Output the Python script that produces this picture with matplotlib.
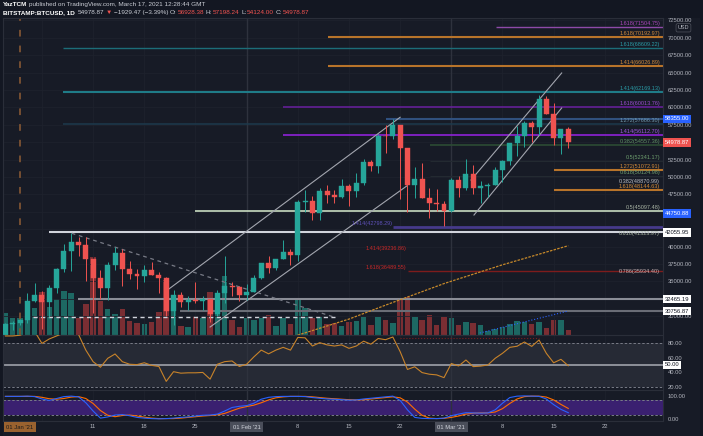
import numpy as np
import pandas as pd
import matplotlib
matplotlib.use("Agg")
import matplotlib.pyplot as plt
import matplotlib.dates as mdates
import matplotlib.transforms as mtrans
from matplotlib.patches import Rectangle

plt.rcParams["font.family"] = ["Liberation Sans", "DejaVu Sans"]

# ---- data ----
dates = pd.date_range("2020-12-30", "2021-03-17", freq="D")
opens = [27360, 28880, 28990, 29400, 32190, 33000, 32030, 34050, 36860, 39430, 40670, 40240, 38240, 35570,
         34050, 37390, 39150, 36770, 36030, 35830, 36630, 35900, 35480, 30830, 33000, 32100, 32290, 32260,
         32500, 30400, 33400, 34300, 34280, 33100, 33540, 35500, 37650, 36970, 38300, 39240, 38860, 46450,
         46500, 44850, 48000, 47400, 47200, 48700, 47950, 49150, 52140, 51600, 55890, 55840, 57490, 54150,
         48880, 49700, 47050, 46300, 46150, 45200, 49600, 48400, 50400, 48400, 48750, 48900, 50950, 52380,
         54880, 55860, 57800, 57250, 61200, 59000, 55600, 56928]
highs = [28990, 29300, 29600, 33300, 34780, 33600, 34500, 36940, 40400, 41950, 41350, 41350, 38300, 36600,
         37800, 40000, 39700, 37900, 36800, 37400, 37850, 36400, 35600, 33800, 33480, 32950, 34900, 32900,
         32550, 33750, 38600, 34900, 34300, 34700, 35900, 37700, 38700, 38300, 40950, 39700, 46700, 48100,
         47300, 48500, 48900, 48100, 49700, 49000, 50600, 52600, 52500, 56200, 57500, 58350, 57500, 54200,
         51400, 52000, 48400, 48300, 46600, 49800, 50200, 52600, 51700, 49400, 49200, 51400, 52400, 54900,
         57400, 58100, 58000, 61800, 61600, 60600, 56950, 57198]
lows = [27320, 28000, 28700, 29000, 32000, 28130, 29900, 33300, 36300, 36500, 38720, 35110, 30420, 32500,
        32400, 36700, 34400, 35400, 33900, 34900, 35900, 33400, 30000, 28800, 31400, 30900, 31900, 30900,
        29200, 30000, 31900, 32900, 32200, 32300, 33450, 35400, 36200, 36600, 38200, 37400, 37990, 45000,
        43800, 43800, 46300, 46300, 47000, 45800, 47100, 48900, 50900, 50600, 53500, 55500, 46900, 44950,
        47000, 47000, 44100, 45100, 43000, 45000, 47100, 48100, 47500, 46300, 47100, 48900, 49300, 51800,
        53000, 54300, 55000, 56100, 59000, 54600, 53300, 54124]
closes = [28880, 28990, 29400, 32190, 33000, 32030, 34050, 36860, 39430, 40670, 40240, 38240, 35570, 34050,
          37390, 39150, 36770, 36030, 35830, 36630, 35900, 35480, 30830, 33000, 32100, 32290, 32260, 32500,
          30400, 33400, 34300, 34280, 33100, 33540, 35500, 37650, 36970, 38300, 39240, 38860, 46450, 46500,
          44850, 48000, 47400, 47200, 48700, 47950, 49150, 52140, 51600, 55890, 55840, 57490, 54150, 48880,
          49700, 47050, 46300, 46150, 45200, 49600, 48400, 50400, 48400, 48750, 48900, 50950, 52380, 54880,
          55860, 57800, 57250, 61200, 59000, 55600, 56930, 54979]
volume_k = [10.8, 8.5, 8.5, 16.5, 13.5, 21.5, 14, 18, 22, 21, 8.5, 15.5, 39, 17, 13, 10.5, 13, 7, 6, 5.5,
            6.5, 11.5, 27.5, 18.5, 4.5, 4, 9.5, 8.5, 21.5, 20.5, 29.5, 7.5, 4, 8.5, 7.5, 8.5, 10, 4.5, 8.5,
            5.5, 18, 13.5, 8.5, 9, 5.5, 6, 4.5, 6.5, 7, 9, 5, 9, 7.5, 6, 17.5, 19, 9, 7.5, 10, 5, 9, 8.5,
            5, 6.5, 6, 5, 2, 3, 4, 5.5, 7, 6.5, 5.5, 6.5, 3.5, 7.5, 7.5, 2.5]
rsi = [89, 89, 90, 94, 95, 79, 85, 89, 93, 94, 91, 70, 54.4, 47, 59, 64.8, 54.4, 51, 50.5, 53, 49.5, 48,
       28, 41, 39, 39.5, 39.5, 40, 31, 51, 54.5, 55.4, 48, 51, 61, 70, 65, 70, 73.7, 70, 87, 86.5, 75.5,
       80, 77, 75.5, 77, 72.4, 75.5, 82, 78, 85.6, 84, 87.6, 68, 44, 47.6, 39.8, 37.6, 36.7, 33, 52, 48.7,
       56.7, 47.8, 48.5, 50, 59, 65.7, 73.7, 75.2, 80.9, 75, 83.6, 65.7, 53, 57.6, 49]
stoch_k = [97, 97, 97, 98, 96, 86, 80, 88, 96, 98, 95, 70, 35, 5, 10, 18, 20, 15, 8, 5, 3, 2, 3, 5, 8, 10,
           14, 17, 18, 22, 35, 50, 55, 58, 68, 85, 93, 96, 97, 97, 97, 96, 92, 89, 86, 85, 83, 81, 82, 86,
           89, 92, 95, 98, 80, 40, 8, 4, 3, 3, 5, 15, 22, 28, 27, 26, 27, 40, 68, 92, 98, 99, 98, 97, 86,
           62, 42, 28]
stoch_d = [97, 97, 97, 97, 97, 93, 87, 85, 88, 94, 96, 88, 67, 37, 17, 11, 16, 18, 14, 9, 5, 3, 3, 3, 5, 8,
           11, 14, 16, 19, 25, 36, 47, 54, 60, 70, 82, 91, 95, 97, 97, 97, 95, 92, 89, 87, 85, 83, 82, 83,
           86, 89, 92, 95, 91, 73, 43, 17, 5, 3, 4, 8, 14, 22, 26, 27, 27, 31, 45, 67, 86, 96, 98, 98, 94,
           82, 63, 46]
ma_dates = pd.date_range("2021-02-05", "2021-03-17", freq="D")
ma_values = [26400, 26700, 27000, 27300, 27620, 27950, 28280, 28610, 28940, 29270, 29600, 30000, 30400,
             30800, 31200, 31600, 31990, 32380, 32770, 33150, 33540, 33930, 34310, 34700, 35040, 35380,
             35710, 36050, 36390, 36720, 37060, 37400, 37700, 38010, 38310, 38620, 38920, 39230, 39530,
             39840, 40140]

# horizontal levels: price and first day (days after 1 Jan 2021)
level_prices = [71504.75, 70192.97, 68609.22, 66026.89, 62169.13, 60013.76, 58355.00, 57686.30, 56112.70,
                54557.36, 52341.17, 51072.91, 50124.98, 48144.63, 45097.48, 42798.29, 42055.95, 36489.55,
                32465.19, 30756.87]
level_start = [65.1, 42.1, 5.9, 42.1, 5.9, 36.0, 50.1, 5.9, 36.0, 56.1, 56.1, 73.0, 56.1, 73.0, 24.0, 51.0,
               4.0, 53.1, 7.9, 21.9]
level_colors = ["#8e4aa8", "#b8742a", "#1c6d78", "#b8742a", "#1f7c88", "#6a1fa0", "#30507e", "#1d3a4c",
                "#8e22d8", "#2c4c34", "#232a31", "#b8742a", "#232a31", "#b8742a", "#c8dcc0", "#463a8a",
                "#d1d4dc", "#7e1c1c", "#8a8d96", "#6a6d76"]
level_widths = [1.0, 1.5, 1.0, 1.5, 1.5, 1.1, 1.5, 1.1, 1.2, 1.2, 0.8, 1.5, 0.8, 1.5, 1.2, 2.0, 1.5, 1.0,
                1.5, 1.5]

right_labels = ["1.618(71504.75)", "1.618(70192.97)", "1.618(68609.22)", "1.414(66026.89)",
                "1.414(62169.13)", "1.618(60013.76)", "1.272(57686.30)", "1.414(56112.70)",
                "0.382(54557.36)", "0.5(52341.17)", "1.272(51072.91)", "0.618(50124.98)",
                "0.382(48870.99)", "1.618(48144.63)", "0.5(45097.48)", "0.618(41323.97)", "0.786(35934.40)"]
right_label_prices = [71504.75, 70192.97, 68609.22, 66026.89, 62169.13, 60013.76, 57686.30, 56112.70,
                      54557.36, 52341.17, 51072.91, 50124.98, 48870.99, 48144.63, 45097.48, 41323.97, 35934.40]
right_label_colors = ["#ab47bc", "#d08a3a", "#2a9aa5", "#d08a3a", "#2a9aa5", "#9a4ad0", "#6f97ab",
                      "#a057e0", "#5f8f62", "#6e9e6e", "#d08a3a", "#6e9e6e", "#b8bbc2", "#d08a3a",
                      "#a8b4a4", "#a8b4a4", "#c8b4b4"]

left_labels = ["1.414(42798.29)", "1.414(39236.86)", "1.618(36489.55)"]
left_label_prices = [42798.29, 39236.86, 36489.55]
left_label_end = [50.9, 52.8, 52.8]
left_label_colors = ["#5e50b8", "#c62828", "#c62828"]

# drawn trend lines: (days, prices)
chan1_up = ([20.1, 52.0], [33720, 58600])
chan1_lo = ([26.0, 52.9], [28460, 48720])
chan2_up = ([61.7, 74.1], [49580, 64960])
chan2_lo = ([62.1, 74.1], [44550, 59930])
down_line = ([7.07, 42.8], [41930, 29940])
support_30k = ([1.8, 43.1], [29950, 29950])
vol_trend = ([62.9, 75.0], [27600, 30760])

box_labels = ["58355.00", "54978.87", "44750.88", "42055.95", "32465.19", "30756.87"]
box_prices = [58355.00, 54978.87, 44750.88, 42055.95, 32465.19, 30756.87]
box_face = ["#2962ff", "#ef5350", "#2962ff", "#ffffff", "#ffffff", "#ffffff"]
box_text = ["#ffffff", "#ffffff", "#ffffff", "#131722", "#131722", "#131722"]

# price scale labels that are not hidden behind the boxes
price_ticks = [30000, 35000, 37500, 40000, 47500, 50000, 52500, 57500, 60000, 62500, 65000, 67500, 70000,
               72500]
grid_prices = np.arange(30000, 72501, 2500)

week_ticks = pd.to_datetime(["2021-01-11", "2021-01-18", "2021-01-25", "2021-02-08", "2021-02-15",
                             "2021-02-22", "2021-03-08", "2021-03-15", "2021-03-22"])
week_labels = ["11", "18", "25", "8", "15", "22", "8", "15", "22"]
grid_weeks = pd.date_range("2021-01-04", "2021-03-22", freq="7D")

# ---- figure ----
W, H = 703, 436
BG = "#171b26"
TXT = "#b2b5be"
GRID = "#1e222d"
UP, DN = "#26a69a", "#ef5350"


def rect(x0, y0, x1, y1):
    return [x0 / W, 1 - y1 / H, (x1 - x0) / W, (y1 - y0) / H]


fig = plt.figure(figsize=(W / 100, H / 100), dpi=100, facecolor="#131722")
fig.patches.append(Rectangle((3 / W, 0), 697 / W, 1 - 18 / H, transform=fig.transFigure,
                             facecolor=BG, edgecolor="none", zorder=-10))

t0 = mdates.date2num(pd.Timestamp("2021-01-01"))
x = mdates.date2num(dates)
xmin, xmax = t0 - 2.33, t0 + 87.96

ax_vol = fig.add_axes(rect(3, 18, 663, 335))
ax = fig.add_axes(rect(3, 18, 663, 335))
ax_rsi = fig.add_axes(rect(3, 335, 663, 390))
ax_st = fig.add_axes(rect(3, 390, 663, 421))

for a in (ax_vol, ax, ax_rsi, ax_st):
    a.set_xlim(xmin, xmax)
    for s in a.spines.values():
        s.set_color("#2a2e39")
        s.set_linewidth(0.8)
ax_vol.set_facecolor(BG)
ax_vol.axis("off")
ax.patch.set_visible(False)
ax_rsi.set_facecolor(BG)
ax_st.set_facecolor(BG)

o, h, l, c = map(np.array, (opens, highs, lows, closes))
up = c >= o
col = np.where(up, UP, DN)

# volume
ax_vol.bar(x, volume_k, width=0.75, color=np.where(up, "#1d6863", "#7a2e33"), zorder=1)
ax_vol.set_ylim(0, 158.5)

# price pane
ax.set_ylim(27313, 72859)
for p in grid_prices:
    ax.axhline(p, color=GRID, lw=0.6, zorder=0)
for a in (ax, ax_rsi, ax_st):
    for d in mdates.date2num(grid_weeks):
        a.axvline(d, color=GRID, lw=0.6, zorder=0)
    for d in (t0 + 31, t0 + 59):
        a.axvline(d, color="#2e323d", lw=1.0, zorder=0.5)
ax.axvline(t0, color="#7d5333", lw=1.3, dashes=(3.7, 5), zorder=1)

for p, s, cl, lw in zip(level_prices, level_start, level_colors, level_widths):
    ax.plot([t0 + s, xmax], [p, p], color=cl, lw=lw, solid_capstyle="butt", zorder=2)

trans_r = mtrans.blended_transform_factory(ax.transAxes, ax.transData)
for s, p, cl in zip(right_labels, right_label_prices, right_label_colors):
    ax.text(0.9955, p + 150, s, transform=trans_r, ha="right", va="bottom", color=cl, fontsize=4.0, zorder=6)
for s, p, e, cl in zip(left_labels, left_label_prices, left_label_end, left_label_colors):
    ax.text(t0 + e, p + 150, s, ha="right", va="bottom", color=cl, fontsize=4.0, zorder=6)

for (dd, pp) in (chan1_up, chan1_lo, chan2_up, chan2_lo):
    ax.plot(t0 + np.array(dd), pp, color="#a3a6af", lw=0.8, zorder=3)
ax.plot(t0 + np.array(down_line[0]), down_line[1], color="#787b86", lw=0.9, dashes=(3, 3), zorder=3)
ax.plot(t0 + np.array(support_30k[0]), support_30k[1], color="#d1d4dc", lw=1.0, dashes=(3, 2.5), zorder=3)
ax.plot(t0 + np.array(vol_trend[0]), vol_trend[1], color="#2962ff", lw=0.8, ls=":", zorder=3)
ax.plot(mdates.date2num(ma_dates), ma_values, color="#c88a2a", lw=0.9, dashes=(2, 1), zorder=3)

ax.vlines(x, l, h, colors=col, lw=0.7, zorder=4)
ax.bar(x, np.abs(c - o), bottom=np.minimum(o, c), width=0.68, color=col, edgecolor=col, lw=0.3, zorder=5)

ax.yaxis.tick_right()
ax.set_yticks(price_ticks)
ax.yaxis.set_major_formatter(matplotlib.ticker.FormatStrFormatter("%.2f"))
ax.tick_params(axis="y", length=0, pad=3.6, labelsize=4.2, labelcolor=TXT)
ax.tick_params(axis="x", bottom=False, labelbottom=False)

for s, p, fc, tc in zip(box_labels, box_prices, box_face, box_text):
    ax.text(1.003, p, s, transform=trans_r, ha="left", va="center", color=tc, fontsize=4.2, zorder=7,
            clip_on=False, bbox=dict(boxstyle="square,pad=0.3", fc=fc, ec="none"))
ax.text(1.031, 71450, "USD", transform=trans_r, ha="center", va="center", color=TXT, fontsize=4.0,
        clip_on=False, bbox=dict(boxstyle="round,pad=0.3", fc=BG, ec="#50535e", lw=0.5))

# RSI pane
ax_rsi.set_ylim(16.4, 90.3)
ax_rsi.fill_between([xmin, xmax], 20, 80, color="#262a35", zorder=0.2, lw=0)
for lv in (80, 20):
    ax_rsi.axhline(lv, color="#787b86", lw=0.7, dashes=(2.5, 2), zorder=1)
ax_rsi.axhline(50, color="#9598a1", lw=1.3, zorder=1)
ax_rsi.plot([t0 + 52, t0 + 71], [86, 86], color="#7a2020", lw=0.8, ls=":", zorder=1)
ax_rsi.plot(x, rsi, color="#c8832a", lw=0.8, zorder=3)
ax_rsi.yaxis.tick_right()
ax_rsi.set_yticks([20, 40, 60, 80])
ax_rsi.yaxis.set_major_formatter(matplotlib.ticker.FormatStrFormatter("%.2f"))
ax_rsi.tick_params(axis="y", length=0, pad=3.6, labelsize=4.2, labelcolor=TXT)
ax_rsi.tick_params(axis="x", bottom=False, labelbottom=False)
trans_rsi = mtrans.blended_transform_factory(ax_rsi.transAxes, ax_rsi.transData)
ax_rsi.text(1.003, 50, "50.00", transform=trans_rsi, ha="left", va="center", color="#131722", fontsize=4.2,
            clip_on=False, zorder=7, bbox=dict(boxstyle="square,pad=0.3", fc="#ffffff", ec="none"))

# Stoch RSI pane
ax_st.set_ylim(-7.2, 124)
ax_st.fill_between([xmin, xmax], 20, 80, color="#3a2070", zorder=0.2, lw=0)
for lv in (80, 20):
    ax_st.axhline(lv, color="#787b86", lw=0.7, dashes=(2.5, 2), zorder=1)
ax_st.plot(x, stoch_d, color="#ff6d00", lw=0.8, zorder=3)
ax_st.plot(x, stoch_k, color="#2962ff", lw=0.8, zorder=3)
ax_st.yaxis.tick_right()
ax_st.set_yticks([0, 100])
ax_st.yaxis.set_major_formatter(matplotlib.ticker.FormatStrFormatter("%.2f"))
ax_st.tick_params(axis="y", length=0, pad=3.6, labelsize=4.2, labelcolor=TXT)
ax_st.set_xticks(mdates.date2num(week_ticks))
ax_st.set_xticklabels(week_labels)
ax_st.tick_params(axis="x", length=0, pad=2.5, labelsize=4.2, labelcolor=TXT)

trans_t = mtrans.blended_transform_factory(ax_st.transData, fig.transFigure)
for d, s, fc, tc in ((t0, "01 Jan '21", "#9a622f", "#1a1a1a"), (t0 + 31, "01 Feb '21", "#4a4e5a", "#d1d4dc"),
                     (t0 + 59, "01 Mar '21", "#4a4e5a", "#d1d4dc")):
    ax_st.text(d, 1 - 427 / H, s, transform=trans_t, ha="center", va="center", color=tc, fontsize=4.2,
               clip_on=False, zorder=7, bbox=dict(boxstyle="square,pad=0.45", fc=fc, ec="none"))

# header
def chain(prev, s, color, weight="normal", gap=1.2):
    return ax.annotate(s, xy=(1, 0.5), xycoords=prev, xytext=(gap, 0), textcoords="offset points",
                       ha="left", va="center", color=color, fontsize=4.6, weight=weight, annotation_clip=False)


t = fig.text(3 / W, 1 - 4.7 / H, "YazTCM", color="#ffffff", fontsize=4.6, weight="bold", va="center")
chain(t, "published on TradingView.com, March 17, 2021 12:28:44 GMT", "#c9ccd4")
t = fig.text(3 / W, 1 - 12.3 / H, "BITSTAMP:BTCUSD, 1D", color="#ffffff", fontsize=4.6, weight="bold",
             va="center")
t = chain(t, "54978.87", "#c9ccd4", gap=2)
t = chain(t, "\u25bc", DN)
t = chain(t, "\u22121929.47 (\u22123.39%)", "#c9ccd4")
for k, v in (("O:", "56928.38"), ("H:", "57198.24"), ("L:", "54124.00"), ("C:", "54978.87")):
    t = chain(t, k, "#c9ccd4", gap=1.5)
    t = chain(t, v, DN, gap=0.3)

fig.savefig("out.png", dpi=100, facecolor=fig.get_facecolor())
